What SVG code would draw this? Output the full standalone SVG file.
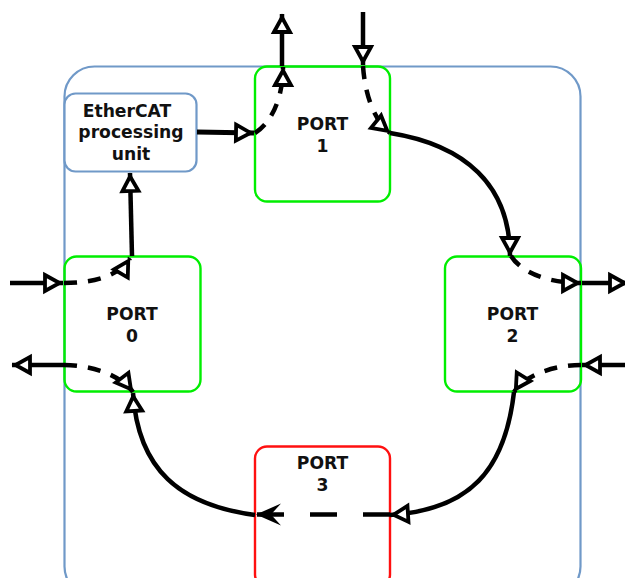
<svg xmlns="http://www.w3.org/2000/svg" width="625" height="578" viewBox="0 0 625 578">
  <style>
    .frame { fill: none; stroke: #7099c8; stroke-width: 2.2; }
    .box { fill: #ffffff; stroke: #7099c8; stroke-width: 2.2; }
    .port { fill: none; stroke: #00ee00; stroke-width: 2.4; }
    .port.off { stroke: #ff1010; }
    .lbl { font-family: "DejaVu Sans", "Liberation Sans", sans-serif; font-weight: bold; font-size: 17.2px; fill: #111111; text-anchor: middle; }
    .wire { fill: none; stroke: #000000; stroke-width: 4.5; }
    .dash { stroke-dasharray: 13 11; }
    .longdash { stroke-dasharray: 27 26; }
    .arr { marker-end: url(#open); }
  </style>
  <defs>
    <marker id="open" markerUnits="userSpaceOnUse" viewBox="-20 -14 40 28" refX="18" refY="0" markerWidth="40" markerHeight="28" orient="auto" overflow="visible">
      <path d="M0,-8 L14.5,0 L0,8 Z" fill="#ffffff" stroke="#000000" stroke-width="3.8" stroke-linejoin="miter"/>
    </marker>
    <marker id="solid" markerUnits="userSpaceOnUse" viewBox="-30 -14 40 28" refX="0" refY="0" markerWidth="40" markerHeight="28" orient="auto" overflow="visible">
      <path d="M0,0 L-25,-11 L-15,0 L-25,11 Z" fill="#000000"/>
    </marker>
  </defs>

  <!-- slave device enclosure -->
  <g id="device">
    <rect class="frame" x="64.5" y="66.5" width="516" height="530" rx="30"/>
  </g>

  <!-- processing unit -->
  <g id="ecat">
    <rect class="box" x="64.5" y="93.5" width="132" height="78" rx="11"/>
    <text class="lbl" x="127" y="117">EtherCAT</text>
    <text class="lbl" x="131" y="138">processing</text>
    <text class="lbl" x="131" y="160">unit</text>
  </g>

  <g id="port1">
    <rect class="port" x="255" y="66.5" width="135" height="135" rx="12"/>
    <text class="lbl" x="322.5" y="130">PORT</text>
    <text class="lbl" x="322.5" y="152">1</text>
  </g>

  <g id="port0">
    <rect class="port" x="64.5" y="256.5" width="136" height="135" rx="12"/>
    <text class="lbl" x="132" y="320">PORT</text>
    <text class="lbl" x="132" y="342">0</text>
  </g>

  <g id="port2">
    <rect class="port" x="445" y="256.5" width="136" height="135" rx="12"/>
    <text class="lbl" x="512.5" y="320">PORT</text>
    <text class="lbl" x="512.5" y="342">2</text>
  </g>

  <g id="port3">
    <rect class="port off" x="255" y="446.5" width="135" height="140" rx="12"/>
    <text class="lbl" x="322.5" y="469">PORT</text>
    <text class="lbl" x="322.5" y="491">3</text>
  </g>

  <g id="connectors">
    <!-- external links -->
    <path class="wire arr" d="M282,66 L282,14"/>
    <path class="wire arr" d="M363,12 L363,65"/>
    <path class="wire arr" d="M627,365 L582,365"/>
    <path class="wire arr" d="M582,283 L628,283"/>
    <path class="wire arr" d="M10,283 L63,283"/>
    <path class="wire arr" d="M64,365 L12,365"/>

    <!-- processing unit to port 1 and from port 0 -->
    <path class="wire arr" d="M197,132 L254,133" style="stroke-width:5"/>
    <path class="wire arr" d="M132,256 L130,173"/>

    <!-- internal pass-through (dashed) -->
    <path class="wire dash arr" d="M255,133 C270,124 283,100 283,67"/>
    <path class="wire dash arr" d="M363,66 C365,95 374,120 390,133"/>
    <path class="wire dash arr" d="M511,256 C521,272 547,283 581,283"/>
    <path class="wire dash arr" d="M581,365 C553,365 524,376 514,392"/>
    <path class="wire dash arr" d="M64,365 C92,365 120,375 133,392"/>
    <path class="wire dash arr" d="M64,283 C96,283 120,275 130,258"/>
    <path class="wire longdash" d="M390,514.5 L256,514.5" marker-end="url(#solid)"/>

    <!-- ring between ports -->
    <path class="wire arr" d="M390,133 C465,145 510,185 510,256"/>
    <path class="wire arr" d="M514,392 C505,470 470,510 390,515"/>
    <path class="wire arr" d="M255,515 C180,505 138,470 133,393"/>
  </g>
</svg>
